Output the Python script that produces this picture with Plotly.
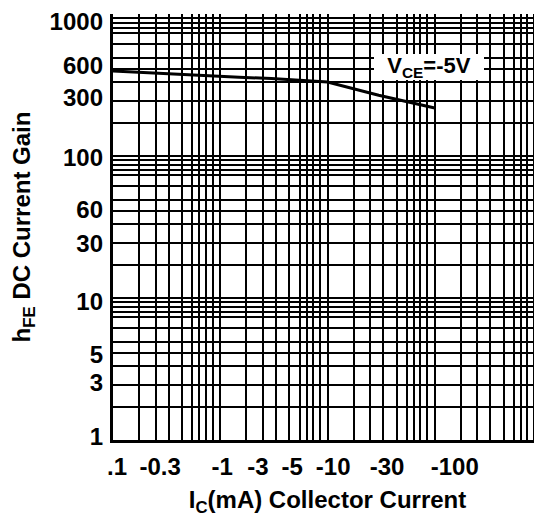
import plotly.graph_objects as go

# ---- data ----
ic_ma = [0.1, 0.5, 1.5, 3, 10, 30, 100]          # collector current (magnitude, mA)
hfe = [397, 372, 358, 352, 332, 268, 218]        # DC current gain

# tick labels as printed, and where they sit on the log scale
x_tick_text = [".1", "-0.3", "-1", "-3", "-5", "-10", "-30", "-100"]
x_tick_vals = [0.109, 0.275, 1.04, 2.25, 4.68, 11.3, 35.9, 153.6]
y_tick_text = ["1", "3", "5", "10", "30", "60", "100", "300", "600", "1000"]
y_tick_vals = [1.05, 2.52, 3.97, 9.4, 24.2, 42, 97, 256, 430, 887]

# grid line positions (per decade multiples)
x_grid_mult = [1, 1.75, 2.5, 3.3, 4.4, 5.5, 6.4, 7.3, 8.5]
x_decades = [0.1, 1, 10, 100]
y_grid_mult = [1, 1.7, 2.45, 3.3, 4.1, 4.9, 6.1, 7.4, 8.0, 8.6, 9.3]
y_decades = [1, 10, 100]

x_grid = [d * m for d in x_decades for m in x_grid_mult] + [1000]
y_grid = [d * m for d in y_decades for m in y_grid_mult] + [1000]

FONT = "Liberation Sans, Arial, sans-serif"
BOLD = dict(family=FONT, size=24, color="black", weight="bold")
BOLD_S = dict(family=FONT, size=22, color="black", weight="bold")

fig = go.Figure()
fig.add_trace(go.Scatter(
    x=ic_ma, y=hfe, mode="lines",
    line=dict(color="black", width=3),
    showlegend=False, hoverinfo="skip",
))
# empty trace so the labelled overlay axes get drawn
fig.add_trace(go.Scatter(x=[], y=[], xaxis="x2", yaxis="y2",
                         showlegend=False, hoverinfo="skip"))

grid_style = dict(showgrid=True, gridcolor="black", gridwidth=2.2,
                  showticklabels=False, ticks="", zeroline=False, automargin=False)

# the page body adds an 8px offset, so the figure is 8px smaller
fig.update_layout(
    width=534, height=509,
    margin=dict(l=105, r=0, t=6, b=77, autoexpand=False),
    paper_bgcolor="white", plot_bgcolor="white",
    font=BOLD,
    xaxis=dict(type="log", range=[-1, 3], tickmode="array", tickvals=x_grid,
               showline=True, linecolor="black", linewidth=3, **grid_style),
    yaxis=dict(type="log", range=[0, 3], tickmode="array", tickvals=y_grid,
               showline=True, linecolor="black", linewidth=3, **grid_style),
    xaxis2=dict(type="log", range=[-1, 3], overlaying="x", anchor="y", side="bottom",
                tickmode="array", tickvals=x_tick_vals, ticktext=x_tick_text,
                showgrid=False, showline=False, zeroline=False, ticks="",
                automargin=False,
                ticklabelstandoff=10, tickfont=BOLD, ticklabeloverflow="allow",
                title=dict(text="I<sub>C</sub>(mA) Collector Current", standoff=21,
                           font=BOLD)),
    yaxis2=dict(type="log", range=[0, 3], overlaying="y", anchor="x", side="left",
                tickmode="array", tickvals=y_tick_vals, ticktext=y_tick_text,
                showgrid=False, showline=False, zeroline=False, ticks="",
                automargin=False,
                ticklabelstandoff=9, tickfont=BOLD, ticklabeloverflow="allow",
                title=dict(text="h<sub>FE</sub> DC Current Gain", standoff=34,
                           font=BOLD)),
    annotations=[dict(
        text="V<sub>CE</sub>=-5V", xref="paper", yref="paper",
        x=0.7366, y=0.8756, xanchor="center", yanchor="middle",
        showarrow=False, bgcolor="white", width=110, height=26,
        borderpad=0, borderwidth=0, font=BOLD_S,
    )],
)

fig.write_html("out.html")
